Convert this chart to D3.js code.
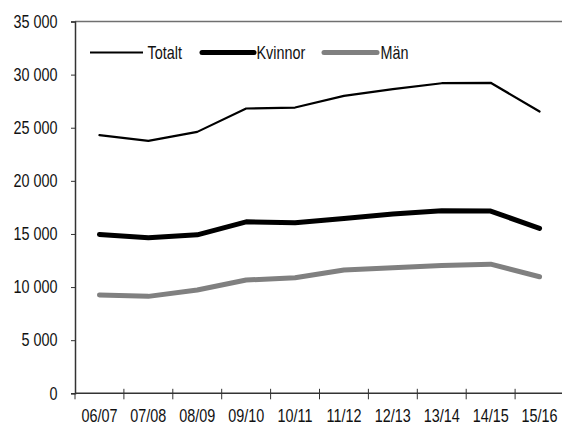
<!DOCTYPE html>
<html><head><meta charset="utf-8">
<script src="https://cdn.jsdelivr.net/npm/d3@7"></script>
<style>
html,body{margin:0;padding:0;background:#fff;}
text{font-family:"Liberation Sans",Arial,sans-serif;}
</style>
</head><body>
<svg id="chart" width="562" height="426"></svg>
<script>
const categories = ["06/07","07/08","08/09","09/10","10/11","11/12","12/13","13/14","14/15","15/16"];
const totalt  = [24300, 23760, 24610, 26810, 26900, 28000, 28630, 29190, 29230, 26530];
const kvinnor = [14960, 14640, 14920, 16140, 16050, 16460, 16870, 17180, 17150, 15520];
const man     = [9250, 9125, 9720, 10660, 10880, 11600, 11820, 12040, 12160, 10970];
const yTicks  = [0, 5000, 10000, 15000, 20000, 25000, 30000, 35000];
const seriesNames = ["Totalt", "Kvinnor", "Män"];

(function(){
const svg = d3.select("#chart");
const mLeft = 75, mRight = 564, mTop = 21.5, mBottom = 393.3;
const FS = 18, SX = 0.8;

const x = d3.scaleBand().domain(categories).range([mLeft, mRight]).padding(0);
const y = d3.scaleLinear().domain([0, 35000]).range([mBottom, mTop]);
const fmt = v => d3.format(",")(v).replace(/,/g, " ");

function label(sel, tx, ty, anchor, str) {
  return sel.append("text")
    .attr("transform", `translate(${tx},${ty}) scale(${SX},1)`)
    .attr("text-anchor", anchor).attr("font-size", FS).attr("fill", "#111")
    .text(str);
}

// top border
svg.append("line").attr("x1", mLeft).attr("x2", 562).attr("y1", y(35000)).attr("y2", y(35000))
  .attr("stroke", "#707070").attr("stroke-width", 1.3);

// y axis
const yAxis = svg.append("g").attr("transform", `translate(${mLeft},0)`)
  .call(d3.axisLeft(y).tickValues(yTicks).tickFormat("").tickSize(4));
yAxis.select(".domain").attr("stroke", "#333").attr("stroke-width", 1.5);
yAxis.selectAll(".tick line").attr("stroke", "#333").attr("stroke-width", 1);
yTicks.forEach(v => label(svg, 57.5, y(v) + 6.3, "end", fmt(v)));

// x axis
const xAxisG = svg.append("g").attr("transform", `translate(0,${mBottom})`);
xAxisG.append("line").attr("x1", mLeft).attr("x2", 562).attr("y1", 0).attr("y2", 0)
  .attr("stroke", "#333").attr("stroke-width", 1.5);
xAxisG.selectAll(".xt").data(categories).enter().append("line")
  .attr("x1", d => x(d)).attr("x2", d => x(d))
  .attr("y1", (d, i) => i === 0 ? 0 : -4.5).attr("y2", 6)
  .attr("stroke", "#333").attr("stroke-width", 1);
categories.forEach(c => label(svg, x(c) + x.bandwidth() / 2, mBottom + 28.5, "middle", c));

// lines
const series = [
  {name: seriesNames[0], values: totalt, color: "#000", width: 2.2},
  {name: seriesNames[1], values: kvinnor, color: "#000", width: 5},
  {name: seriesNames[2], values: man, color: "#808080", width: 5}
];
const line = d3.line().x((d, i) => x(categories[i]) + x.bandwidth() / 2).y(d => y(d));
series.forEach(s => {
  svg.append("path").datum(s.values).attr("d", line).attr("fill", "none")
    .attr("stroke", s.color).attr("stroke-width", s.width)
    .attr("stroke-linejoin", "round").attr("stroke-linecap", "round");
});

// legend
const legendPos = [{x1: 90, x2: 143, tx: 147.5}, {x1: 202, x2: 254, tx: 256.5}, {x1: 324, x2: 377, tx: 380.5}];
const ly = 52.5;
series.forEach((s, i) => {
  const p = legendPos[i];
  svg.append("line").attr("x1", p.x1).attr("x2", p.x2).attr("y1", ly).attr("y2", ly)
    .attr("stroke", s.color).attr("stroke-width", s.width)
    .attr("stroke-linecap", i === 0 ? "butt" : "round");
  label(svg, p.tx, ly + 6.5, "start", s.name);
});
})();
</script>
</body></html>
